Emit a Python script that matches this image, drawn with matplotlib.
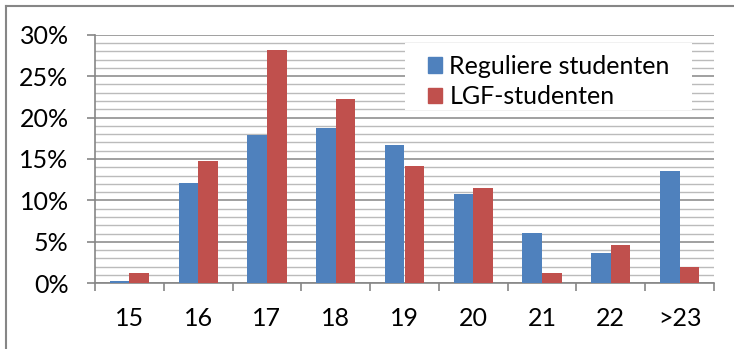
import matplotlib
matplotlib.use("Agg")
import matplotlib.pyplot as plt
from matplotlib.ticker import MultipleLocator, FuncFormatter
from matplotlib.lines import Line2D
from matplotlib.patches import Rectangle
import numpy as np

categories = ["15", "16", "17", "18", "19", "20", "21", "22", ">23"]
regulier = [0.3, 12.1, 17.9, 18.7, 16.7, 10.8, 6.1, 3.7, 13.6]
lgf = [1.3, 14.8, 28.2, 22.2, 14.1, 11.5, 1.3, 4.6, 2.0]
series_names = ["Reguliere studenten", "LGF-studenten"]
colors = ["#4F81BD", "#C0504D"]

plt.rcParams['font.family'] = ['Lato', 'DejaVu Sans']

W, H = 734, 349
fig = plt.figure(figsize=(W / 100, H / 100), dpi=100)
ax = fig.add_axes([95 / W, 1 - 283.3 / H, (714 - 95) / W, (283.3 - 34.7) / H])

x = np.arange(len(categories))
w = 1 / 3.5
ax.bar(x - w / 2, regulier, width=w, color=colors[0], zorder=3)
ax.bar(x + w / 2, lgf, width=w, color=colors[1], zorder=3)

ax.set_xlim(-0.5, len(categories) - 0.5)
ax.set_ylim(0, 30)
ax.yaxis.set_major_locator(MultipleLocator(5))
ax.yaxis.set_minor_locator(MultipleLocator(1))
ax.yaxis.set_major_formatter(FuncFormatter(lambda v, p: f"{int(round(v))}%"))
ax.grid(which='major', axis='y', color='#868686', linewidth=1.1, zorder=0)
ax.grid(which='minor', axis='y', color='#BBBBBB', linewidth=1.0, zorder=0)
ax.set_axisbelow(True)

ax.set_xticks(x)
ax.set_xticklabels(categories)
ax.set_xticks(np.arange(-0.5, len(categories)), minor=True)
ax.tick_params(axis='x', which='major', length=0, pad=17, labelsize=18)
ax.tick_params(axis='x', which='minor', length=6, width=1.2, color='#868686', direction='out')
ax.tick_params(axis='y', which='major', length=6, width=1.2, color='#868686', pad=13, labelsize=18)
ax.tick_params(axis='y', which='minor', length=0)

for s in ['top', 'right']:
    ax.spines[s].set_visible(False)
for s in ['left', 'bottom']:
    ax.spines[s].set_color('#868686')
    ax.spines[s].set_linewidth(1.2)

# white legend background box
ax.add_patch(Rectangle((405 / W, 1 - 110 / H), (692 - 405) / W, (110 - 43) / H,
                       transform=fig.transFigure, facecolor='white', edgecolor='none',
                       zorder=4, clip_on=False))

handles = [plt.Rectangle((0, 0), 1, 1, color=c) for c in colors]
leg = fig.legend(handles, series_names, loc='upper left',
                 bbox_to_anchor=(419 / W, 1 - 46 / H),
                 frameon=False, fontsize=18, handlelength=0.58, handleheight=0.58,
                 handletextpad=0.28, borderpad=0.35, labelspacing=0.3, borderaxespad=0)
leg.set_zorder(5)

# outer chart border (left and top visible)
fig.add_artist(Line2D([6 / W, 6 / W], [0, 1 - 6 / H], color='#868686', linewidth=1.5))
fig.add_artist(Line2D([6 / W, 1], [1 - 6 / H, 1 - 6 / H], color='#868686', linewidth=1.5))

fig.savefig("out.png", dpi=100)
